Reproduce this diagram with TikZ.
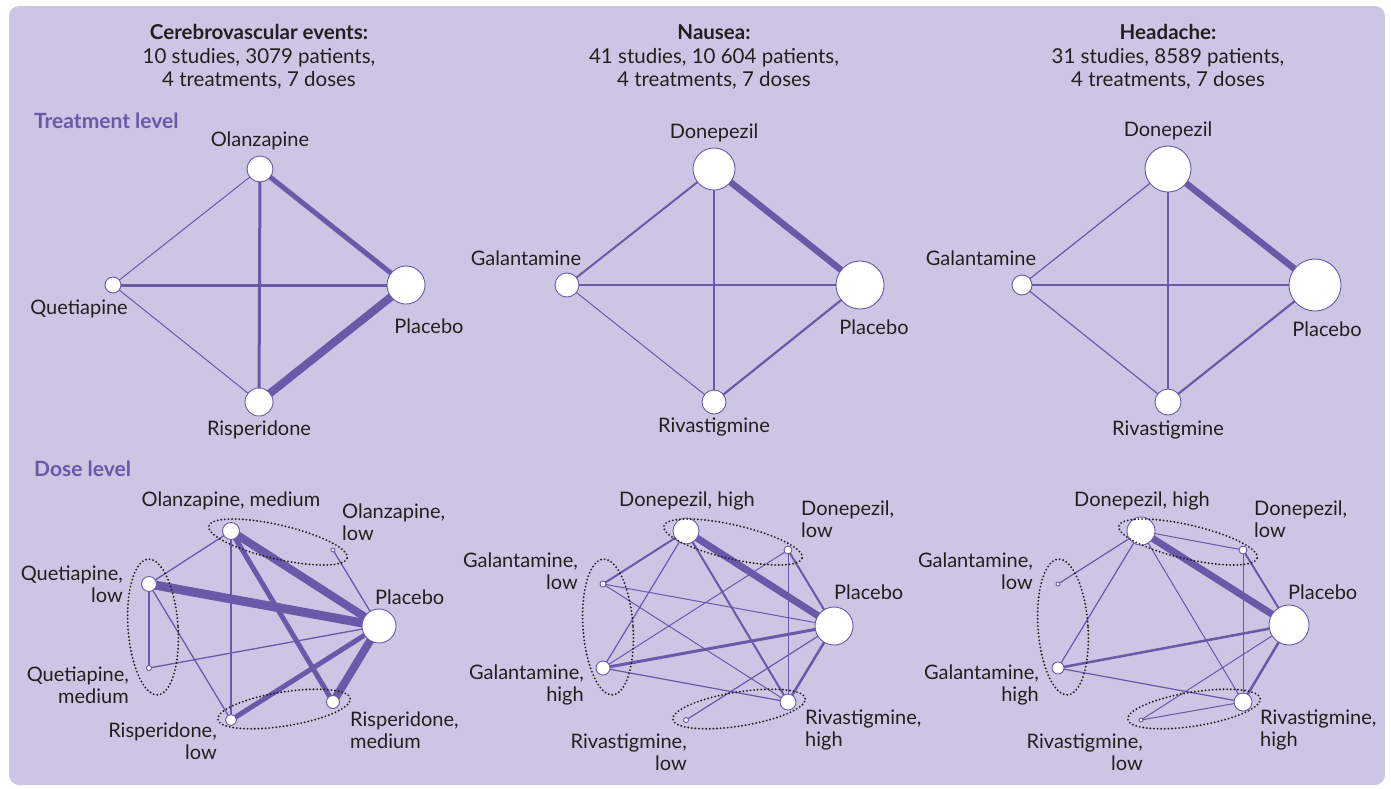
\documentclass[tikz,border=0pt]{standalone}
\usepackage{fontspec}
\setmainfont{Lato}
\usepackage{tikz}
\usetikzlibrary{positioning}

\definecolor{panelbg}{RGB}{204,198,228}
\definecolor{linkpurple}{RGB}{106,88,168}
\definecolor{inkdark}{RGB}{35,31,32}

\pgfdeclarelayer{back}
\pgfdeclarelayer{links}
\pgfsetlayers{back,links,main}

\tikzset{
    arm/.style={circle, draw=linkpurple, fill=white, line width=0.9pt, inner sep=0pt, minimum size=#1},
    lbl/.style={font=\fontsize{20}{21.5}\selectfont, text=inkdark, inner sep=0pt},
    headtxt/.style={font=\fontsize{20.5}{23.5}\selectfont, text=inkdark, align=center, inner sep=0pt},
    level/.style={font=\fontsize{21}{22}\selectfont\bfseries, text=linkpurple, anchor=west, inner sep=0pt},
    link/.style={draw=linkpurple, line width=#1},
    grp/.style={draw=inkdark, line width=2.1pt, dash pattern=on 0pt off 3.6pt, line cap=round}
}

\begin{document}
\begin{tikzpicture}[x=1pt, y=-1pt]
    \useasboundingbox (0,0) rectangle (1391,788);
    \begin{pgfonlayer}{back}
        \fill[panelbg, rounded corners=10pt] (9,6) rectangle (1385,785);
    \end{pgfonlayer}

    % headers
    \node[headtxt] (headC) at (259,57) {\textbf{Cerebrovascular events:}\\10 studies, 3079 patients,\\4 treatments, 7 doses};
    \node[headtxt] (headN) at (714,57) {\textbf{Nausea:}\\41 studies, 10~604 patients,\\4 treatments, 7 doses};
    \node[headtxt] (headH) at (1168,57) {\textbf{Headache:}\\31 studies, 8589 patients,\\4 treatments, 7 doses};

    \node[level] (lvT) at (34,121) {Treatment level};
    \node[level] (lvD) at (34,469) {Dose level};

    % treatment level, cerebrovascular events
    \node[arm=26] (cOla) at (260,169) {};
    \node[arm=16] (cQue) at (113,285) {};
    \node[arm=38] (cPla) at (406,285) {};
    \node[arm=28] (cRis) at (259,402) {};
    \node[lbl] (cOlaL) at (260,141) {Olanzapine};
    \node[lbl] (cQueL) at (79,309) {Quetiapine};
    \node[lbl] (cPlaL) at (429,326) {Placebo};
    \node[lbl] (cRisL) at (259,430) {Risperidone};

    % treatment level, nausea
    \node[arm=42] (nDon) at (714,169) {};
    \node[arm=24] (nGal) at (567,285) {};
    \node[arm=48] (nPla) at (860,285) {};
    \node[arm=24] (nRiv) at (714,402) {};
    \node[lbl] (nDonL) at (714,133) {Donepezil};
    \node[lbl] (nGalL) at (526,258) {Galantamine};
    \node[lbl] (nPlaL) at (874,327) {Placebo};
    \node[lbl] (nRivL) at (714,427) {Rivastigmine};

    % treatment level, headache
    \node[arm=46] (hDon) at (1168,169) {};
    \node[arm=20] (hGal) at (1022,285) {};
    \node[arm=52] (hPla) at (1315,285) {};
    \node[arm=26] (hRiv) at (1168,402) {};
    \node[lbl] (hDonL) at (1168,131) {Donepezil};
    \node[lbl] (hGalL) at (981,258) {Galantamine};
    \node[lbl] (hPlaL) at (1327,329) {Placebo};
    \node[lbl] (hRivL) at (1168,430) {Rivastigmine};

    % dose level, cerebrovascular events
    \node[arm=17] (cdOM) at (231,531) {};
    \node[arm=4]  (cdOL) at (333,550) {};
    \node[arm=15] (cdQL) at (149,584) {};
    \node[arm=5]  (cdQM) at (149,668) {};
    \node[arm=34] (cdP)  at (379,626) {};
    \node[arm=11] (cdRL) at (231,720) {};
    \node[arm=13] (cdRM) at (333,702) {};
    \node[lbl] (cdOML) at (231,501) {Olanzapine, medium};
    \node[lbl, anchor=west, align=left] (cdOLL) at (342,522) {Olanzapine,\\low};
    \node[lbl, anchor=east, align=right] (cdQLL) at (123,584) {Quetiapine,\\low};
    \node[lbl, anchor=east, align=right] (cdQML) at (129,685) {Quetiapine,\\medium};
    \node[lbl, anchor=west] (cdPL) at (375,597) {Placebo};
    \node[lbl, anchor=east, align=right] (cdRLL) at (217,741) {Risperidone,\\low};
    \node[lbl, anchor=west, align=left] (cdRML) at (350,730) {Risperidone,\\medium};

    % dose level, nausea
    \node[arm=26] (ndDH) at (686,531) {};
    \node[arm=8]  (ndDL) at (788,550) {};
    \node[arm=6]  (ndGL) at (603,584) {};
    \node[arm=14] (ndGH) at (603,668) {};
    \node[arm=38] (ndP)  at (834,626) {};
    \node[arm=16] (ndRH) at (788,702) {};
    \node[arm=5]  (ndRL) at (686,720) {};
    \node[lbl] (ndDHL) at (687,501) {Donepezil, high};
    \node[lbl, anchor=west, align=left] (ndDLL) at (801,519) {Donepezil,\\low};
    \node[lbl, anchor=east, align=right] (ndGLL) at (578,571) {Galantamine,\\low};
    \node[lbl, anchor=east, align=right] (ndGHL) at (584,685) {Galantamine,\\high};
    \node[lbl, anchor=west] (ndPL) at (834,592) {Placebo};
    \node[lbl, anchor=west, align=left] (ndRHL) at (805,730) {Rivastigmine,\\high};
    \node[lbl, anchor=east, align=right] (ndRLL) at (687,752) {Rivastigmine,\\low};

    % dose level, headache
    \node[arm=28] (hdDH) at (1141,531) {};
    \node[arm=8]  (hdDL) at (1243,550) {};
    \node[arm=4]  (hdGL) at (1058,584) {};
    \node[arm=12] (hdGH) at (1058,668) {};
    \node[arm=40] (hdP)  at (1289,625) {};
    \node[arm=18] (hdRH) at (1243,702) {};
    \node[arm=4]  (hdRL) at (1141,720) {};
    \node[lbl] (hdDHL) at (1142,501) {Donepezil, high};
    \node[lbl, anchor=west, align=left] (hdDLL) at (1254,519) {Donepezil,\\low};
    \node[lbl, anchor=east, align=right] (hdGLL) at (1033,571) {Galantamine,\\low};
    \node[lbl, anchor=east, align=right] (hdGHL) at (1039,685) {Galantamine,\\high};
    \node[lbl, anchor=west] (hdPL) at (1288,592) {Placebo};
    \node[lbl, anchor=west, align=left] (hdRHL) at (1260,730) {Rivastigmine,\\high};
    \node[lbl, anchor=east, align=right] (hdRLL) at (1143,752) {Rivastigmine,\\low};

    \begin{pgfonlayer}{links}
        % treatment level links
        \foreach \a/\b/\w in {cOla/cPla/5, cRis/cPla/8, cOla/cRis/3, cQue/cPla/3,
                cQue/cOla/1, cQue/cRis/1,
                nDon/nPla/6.5, nGal/nDon/2, nGal/nPla/2.5, nGal/nRiv/1, nDon/nRiv/1.3, nRiv/nPla/2.2,
                hDon/hPla/6.5, hRiv/hPla/2.2, hGal/hDon/1.2, hGal/hPla/1.2, hGal/hRiv/1.2, hDon/hRiv/1.2}
            \draw[link=\w] (\a.center) -- (\b.center);
        % dose level links
        \foreach \a/\b/\w in {cdOM/cdP/8, cdQL/cdP/9, cdOM/cdRM/5, cdRL/cdP/5, cdRM/cdP/8,
                cdOM/cdQL/1.3, cdOM/cdRL/1.3, cdQL/cdQM/1.3, cdQL/cdRL/1.3, cdQM/cdP/1.3, cdOL/cdP/1.3,
                ndDH/ndP/7, ndGH/ndP/3, ndDH/ndGL/2, ndDH/ndGH/1.2, ndDH/ndRH/2, ndDL/ndGH/1,
                ndDL/ndRH/1, ndDL/ndP/2, ndGL/ndP/1, ndGL/ndRH/1, ndGH/ndRH/1.2, ndRH/ndP/2.5, ndRL/ndP/1.2,
                hdDH/hdP/7, hdDH/hdDL/1, hdDL/hdP/2, hdDL/hdRH/1, hdDH/hdGL/1.2, hdDH/hdGH/1.2,
                hdDH/hdRH/1, hdGH/hdP/2.5, hdGH/hdRH/1.2, hdRH/hdP/2.5, hdRL/hdP/1, hdRL/hdRH/1}
            \draw[link=\w] (\a.center) -- (\b.center);
    \end{pgfonlayer}

    % dose groups
    \foreach \xo in {0,455,910} {
        \draw[grp, rotate around={-13:(278+\xo,542)}] (278+\xo,542) ellipse [x radius=71pt, y radius=17pt];
        \draw[grp, rotate around={4:(153+\xo,627)}] (153+\xo,627) ellipse [x radius=25pt, y radius=68pt];
        \draw[grp, rotate around={9:(284+\xo,709)}] (284+\xo,709) ellipse [x radius=67pt, y radius=17pt];
    }
\end{tikzpicture}
\end{document}
